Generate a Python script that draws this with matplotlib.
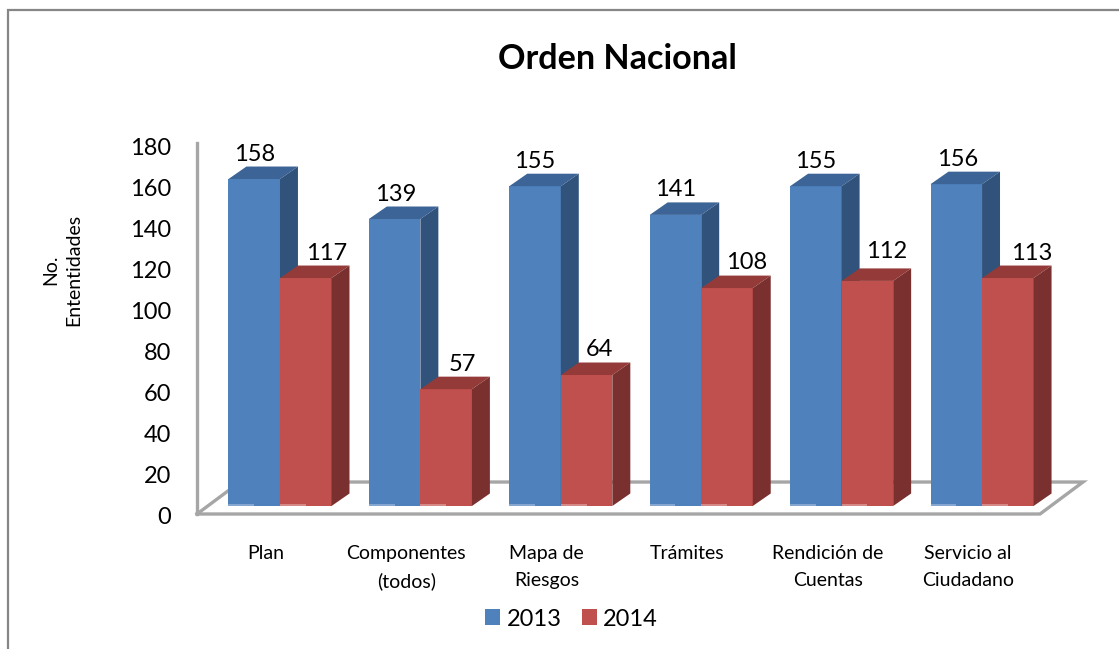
import matplotlib
matplotlib.use("Agg")
import matplotlib.pyplot as plt
from matplotlib.patches import Polygon, Patch
from matplotlib.lines import Line2D
from matplotlib.transforms import ScaledTranslation

plt.rcParams['font.family'] = ['Lato', 'DejaVu Sans']

categories = ["Plan", "Componentes\n(todos)", "Mapa de\nRiesgos", "Trámites",
              "Rendición de\nCuentas", "Servicio al\nCiudadano"]
series_names = ["2013", "2014"]
labels_2013 = [158, 139, 155, 141, 155, 156]
labels_2014 = [117, 57, 64, 108, 112, 113]
# Drawn bar heights (the printed labels differ slightly)
heights_2013 = [159.5, 140, 156, 142, 156, 157]
heights_2014 = [111.2, 57, 63.9, 106.3, 109.8, 111.2]
yticks = list(range(0, 181, 20))

# style / layout
W, H = 1119, 649
BLUE = ("#4F81BD", "#3C6496", "#30527B", "#86A6D2")
RED = ("#C0504D", "#943B39", "#7A302E", "#D68A88")
BAR_W = 0.367
DX, DY = 0.128, 6.1          # bar depth in axis units
BASE = 3.9                   # bar base above the floor's front edge
FX, FY = 0.306, 15.6         # floor depth in axis units
WALL = "#A6A6A6"
lab_dx_2013 = [0, 1, 0, 0, 0, 1]
lab_dx_2014 = [21, 16, 13, 20, 19, 24]
lab_dy_2014 = [25, 25, 26, 26, 29, 25]

fig = plt.figure(figsize=(W / 100, H / 100), dpi=100)
ax = fig.add_axes([197 / W, 1 - 514 / H, (1083 - 197) / W, (514 - 145) / H])
ax.set_xlim(-0.591, 5.719)
ax.set_ylim(0, 180)
for s in ax.spines.values():
    s.set_visible(False)
ax.patch.set_alpha(0)


def box(x0, h, cols, z):
    x1 = x0 + BAR_W
    top = BASE + h
    ax.add_patch(Polygon([(x0, BASE), (x1, BASE), (x1, top), (x0, top)], fc=cols[0], ec="none", zorder=z, clip_on=False))
    ax.add_patch(Polygon([(x0, top), (x1, top), (x1 + DX, top + DY), (x0 + DX, top + DY)], fc=cols[1], ec="none", zorder=z, clip_on=False))
    ax.add_patch(Polygon([(x1, BASE), (x1 + DX, BASE + DY), (x1 + DX, top + DY), (x1, top)], fc=cols[2], ec="none", zorder=z, clip_on=False))
    xm = x0 + BAR_W / 2
    ax.add_patch(Polygon([(x0, BASE), (xm, BASE), (xm, BASE + 0.9), (x0, BASE + 0.9)], fc=cols[3], ec="none", zorder=z, clip_on=False))


# floor and wall
xl, xr = -0.591, 5.719 - FX
line_kw = dict(color=WALL, lw=2.4, clip_on=False, zorder=1, solid_joinstyle="miter")
ax.plot([xl, xl], [0, 181], **line_kw)
ax.plot([xl, xr, xr + FX, xl + FX], [0, 0, FY, FY], **line_kw)
ax.plot([xl, xl + FX * 0.72], [0, FY * 0.72], **line_kw)

for i in range(len(categories)):
    z = 3 + i
    box(i - BAR_W, heights_2013[i], BLUE, z)
    box(i, heights_2014[i], RED, z + 0.5)
    ax.annotate(str(labels_2013[i]), (i - BAR_W / 2, BASE + heights_2013[i]),
                xytext=(lab_dx_2013[i] * 0.72, 25 * 0.72), textcoords="offset points",
                ha="center", va="center", fontsize=17, color="black", zorder=20)
    ax.annotate(str(labels_2014[i]), (i + BAR_W / 2, BASE + heights_2014[i]),
                xytext=(lab_dx_2014[i] * 0.72, lab_dy_2014[i] * 0.72), textcoords="offset points",
                ha="center", va="center", fontsize=17, color="black", zorder=20)

ax.set_yticks(yticks)
ax.tick_params(axis="y", length=0, pad=18.5, labelsize=17)
shift = ScaledTranslation(0, -1.2 / 100, fig.dpi_scale_trans)
for lab in ax.get_yticklabels():
    lab.set_transform(lab.get_transform() + shift)
ax.set_xticks([i - 0.1 for i in range(len(categories))])
ax.set_xticklabels(categories, fontsize=14, linespacing=1.7)
ax.tick_params(axis="x", length=0, pad=22.5)

fig.text(62.5 / W, 1 - 270 / H, "No.\nEntentidades", rotation=90, ha="center", va="center", fontsize=14, linespacing=1.45)
fig.text(617 / W, 1 - 59 / H, "Orden Nacional", ha="center", va="center", fontsize=24.6, fontweight="bold")

handles = [Patch(fc=BLUE[0], ec="none"), Patch(fc=RED[0], ec="none")]
fig.legend(handles, series_names, loc="center", bbox_to_anchor=(571.5 / W, 1 - 619 / H), ncol=2, frameon=False,
           fontsize=17, handlelength=0.63, handleheight=0.63, handletextpad=0.28, columnspacing=0.85, borderpad=0)

# outer chart frame (top and left sides visible)
fig.add_artist(Line2D([8 / W, 8 / W, 1], [0, 1 - 10 / H, 1 - 10 / H], transform=fig.transFigure, color="#868686", lw=1.6,
                      solid_joinstyle="miter"))

fig.savefig("out.png", dpi=100, facecolor="white")
